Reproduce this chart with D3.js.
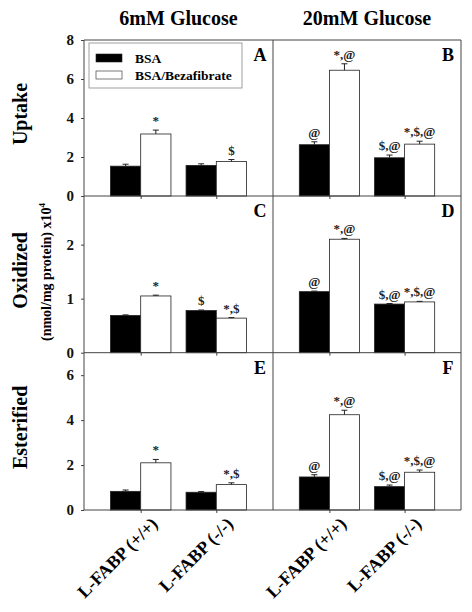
<!DOCTYPE html>
<html><head><meta charset="utf-8">
<script src="https://cdn.jsdelivr.net/npm/d3@7"></script>
<style>
body{margin:0;background:#fff;}
svg{display:block;font-family:"Liberation Serif","Times New Roman",serif;font-weight:bold;}
</style></head>
<body><svg id="c" width="472" height="612"></svg>
<script>
const glucose = ["6mM Glucose", "20mM Glucose"];
const measures = ["Uptake", "Oxidized", "Esterified"];
const genotypes = ["L-FABP (+/+)", "L-FABP (-/-)"];
const treatments = ["BSA", "BSA/Bezafibrate"];
const panelLetters = [["A", "B"], ["C", "D"], ["E", "F"]];
const yMax = [8, 2.9, 7];
const yTicks = [[0, 2, 4, 6, 8], [0, 1, 2], [0, 2, 4, 6]];
// per panel: [+/+ BSA, +/+ Beza, -/- BSA, -/- Beza]
const meanA = [1.53, 3.18, 1.57, 1.77];
const errA  = [0.10, 0.20, 0.08, 0.10];
const meanB = [2.63, 6.45, 1.96, 2.66];
const errB  = [0.15, 0.33, 0.14, 0.15];
const meanC = [0.69, 1.05, 0.78, 0.64];
const errC  = [0.01, 0.015, 0.01, 0.01];
const meanD = [1.13, 2.10, 0.90, 0.94];
const errD  = [0.01, 0.015, 0.01, 0.01];
const meanE = [0.83, 2.10, 0.79, 1.13];
const errE  = [0.06, 0.15, 0.03, 0.08];
const meanF = [1.47, 4.24, 1.04, 1.68];
const errF  = [0.10, 0.20, 0.07, 0.10];
const sigA = ["", "*", "", "$"];
const sigB = ["@", "*,@", "$,@", "*,$,@"];
const sigC = ["", "*", "$", "*,$"];
const sigD = ["@", "*,@", "$,@", "*,$,@"];
const sigE = ["", "*", "", "*,$"];
const sigF = ["@", "*,@", "$,@", "*,$,@"];

const means = [[meanA, meanB], [meanC, meanD], [meanE, meanF]];
const errs = [[errA, errB], [errC, errD], [errE, errF]];
const sigs = [[sigA, sigB], [sigC, sigD], [sigE, sigF]];

const svg = d3.select("#c");
const plotL = 84, plotR = 461, plotMid = 273;
const rowY = [40, 196, 352.7, 510];
const colX = [[plotL, plotMid], [plotMid, plotR]];
const frame = "#444";
const fill = ["#000", "#fff"];

// Titles
glucose.forEach((g, ci) => {
  svg.append("text").attr("x", (colX[ci][0] + colX[ci][1]) / 2).attr("y", 25)
    .attr("text-anchor", "middle").attr("font-size", 20).text(g);
});

measures.forEach((m, ri) => {
  const y = d3.scaleLinear().domain([0, yMax[ri]]).range([rowY[ri + 1], rowY[ri]]);
  // Row label
  svg.append("text").attr("transform", `translate(27,${(rowY[ri] + rowY[ri + 1]) / 2 - 4}) rotate(-90)`)
    .attr("text-anchor", "middle").attr("font-size", 20).text(m);
  // y axis
  const ya = svg.append("g").attr("transform", `translate(${plotL},0)`)
    .call(d3.axisLeft(y).tickValues(yTicks[ri]).tickSize(3).tickPadding(7).tickFormat(d3.format("d")));
  ya.select(".domain").remove();
  ya.selectAll("line").attr("stroke", frame);
  ya.selectAll("text").attr("font-size", 15).attr("font-family", "Liberation Serif").attr("font-weight", "bold").attr("fill", "#111");

  glucose.forEach((g, ci) => {
    const [x0, x1] = colX[ci];
    const x = d3.scalePoint().domain(genotypes).range([x0, x1]).padding(0.75);
    const bw = x.step() * 0.4;
    const xi = d3.scaleBand().domain(treatments).range([-bw, bw]);
    const mv = means[ri][ci], ev = errs[ri][ci], sv = sigs[ri][ci];
    const data = [];
    genotypes.forEach((gt, gi) => treatments.forEach((t, ti) => {
      const k = gi * 2 + ti;
      data.push({gt, t, ti, v: mv[k], e: ev[k], s: sv[k]});
    }));
    const g0 = svg.append("g");
    // x ticks
    const xa = g0.append("g").attr("transform", `translate(0,${rowY[ri + 1]})`)
      .call(d3.axisBottom(x).tickSize(3).tickFormat(""));
    xa.select(".domain").remove();
    xa.selectAll("line").attr("stroke", frame);
    // bars
    g0.selectAll("rect.bar").data(data).join("rect").attr("class", "bar")
      .attr("x", d => x(d.gt) + xi(d.t)).attr("width", xi.bandwidth())
      .attr("y", d => y(d.v)).attr("height", d => y(0) - y(d.v))
      .attr("fill", d => fill[d.ti]).attr("stroke", "#222").attr("stroke-width", 0.8);
    // error bars
    data.forEach(d => {
      const cx = x(d.gt) + xi(d.t) + xi.bandwidth() / 2;
      g0.append("line").attr("x1", cx).attr("x2", cx).attr("y1", y(d.v)).attr("y2", y(d.v + d.e))
        .attr("stroke", "#222").attr("stroke-width", 1);
      g0.append("line").attr("x1", cx - 3).attr("x2", cx + 3).attr("y1", y(d.v + d.e)).attr("y2", y(d.v + d.e))
        .attr("stroke", "#222").attr("stroke-width", 1);
      if (d.s) {
        g0.append("text").attr("x", cx).attr("y", y(d.v + d.e) - 5).attr("text-anchor", "middle")
          .attr("font-size", 13).attr("fill", "#222").text(d.s);
      }
    });
    // panel letter
    svg.append("text").attr("x", x1 - 13).attr("y", rowY[ri] + 21).attr("text-anchor", "middle")
      .attr("font-size", 18).text(panelLetters[ri][ci]);
    // x labels for bottom row
    if (ri === 2) {
      genotypes.forEach(gt => {
        svg.append("text").attr("transform", `translate(${x(gt) + 18},${rowY[3] + 15}) rotate(-45)`)
          .attr("text-anchor", "end").attr("font-size", 18).text(gt);
      });
    }
  });
  // horizontal frame lines
  svg.append("line").attr("x1", plotL).attr("x2", plotR).attr("y1", rowY[ri + 1]).attr("y2", rowY[ri + 1])
    .attr("stroke", frame).attr("stroke-width", 1);
});
// frame
svg.append("line").attr("x1", plotL).attr("x2", plotR).attr("y1", rowY[0]).attr("y2", rowY[0]).attr("stroke", frame);
[plotL, plotMid, plotR].forEach(xv => {
  svg.append("line").attr("x1", xv).attr("x2", xv).attr("y1", rowY[0]).attr("y2", rowY[3]).attr("stroke", frame);
});

// y sub-label
const sub = svg.append("text").attr("transform", `translate(51,${272}) rotate(-90)`)
  .attr("text-anchor", "middle").attr("font-size", 14);
sub.append("tspan").text("(nmol/mg protein) x10");
sub.append("tspan").attr("font-size", 9).attr("dy", -6).text("4");

// legend
const lg = svg.append("g");
lg.append("rect").attr("x", 89).attr("y", 43).attr("width", 153).attr("height", 45)
  .attr("fill", "#fff").attr("stroke", "#888").attr("stroke-width", 0.8);
treatments.forEach((t, i) => {
  lg.append("rect").attr("x", 96).attr("y", 54 + i * 17).attr("width", 26).attr("height", 8)
    .attr("fill", fill[i]).attr("stroke", "#222").attr("stroke-width", 0.6);
  lg.append("text").attr("x", 135).attr("y", 63 + i * 16.5).attr("font-size", 13.5).text(t);
});
</script></body></html>
